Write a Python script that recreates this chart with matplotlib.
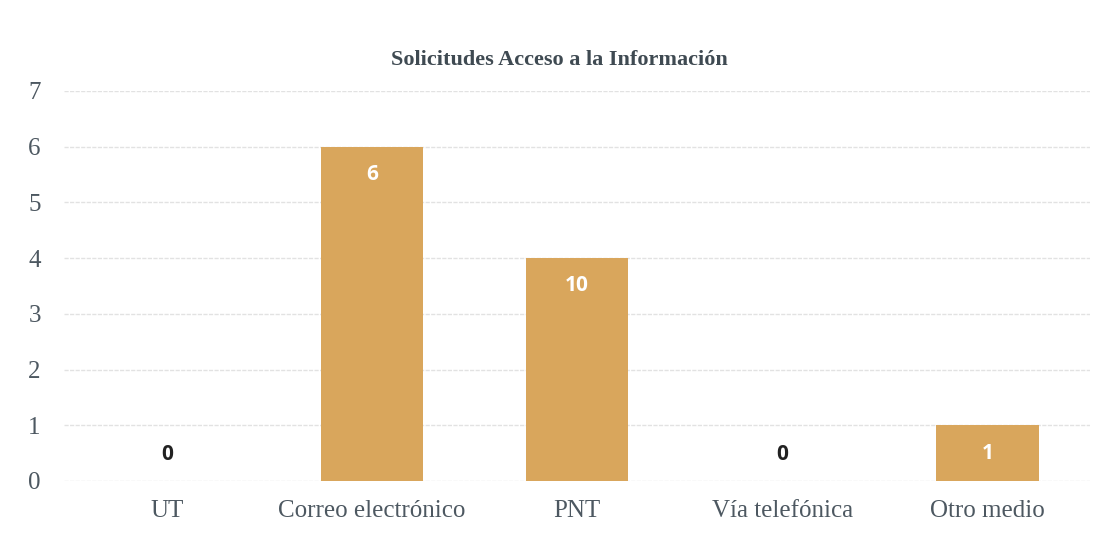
import matplotlib
matplotlib.use("Agg")
import matplotlib.pyplot as plt
import numpy as np

# data
categories = ["UT", "Correo electrónico", "PNT", "Vía telefónica", "Otro medio"]
values = [0, 6, 4, 0, 1]
bar_labels = ["0", "6", "10", "0", "1"]
yticks = [0, 1, 2, 3, 4, 5, 6, 7]

BAR = "#d9a65c"
TEXT = "#4d5861"
GRID = "#e2e2e2"

fig = plt.figure(figsize=(11.1, 5.35), dpi=100)
ax = fig.add_axes([0.058, 0.101, 0.924, 0.729])

x = np.arange(len(categories))
bars = ax.bar(x, values, width=0.5, color=BAR, zorder=2)

ax.set_xlim(-0.5, len(categories) - 0.5)
ax.set_ylim(0, 7)
ax.set_yticks(yticks)
ax.set_xticks(x)
ax.set_xticklabels(categories)

for s in ax.spines.values():
    s.set_visible(False)
ax.grid(axis="y", color=GRID, linewidth=1, linestyle=(0, (3, 1)), zorder=0)
ax.tick_params(length=0, labelsize=18, colors=TEXT)
ax.tick_params(axis="x", pad=14)
ax.tick_params(axis="y", pad=17)
for lab in ax.get_xticklabels() + ax.get_yticklabels():
    lab.set_family("Liberation Serif")

# value labels: white inside bar top, dark above zero bars
for b, v, txt in zip(bars, values, bar_labels):
    cx = b.get_x() + b.get_width() / 2
    if v > 0:
        ax.annotate(txt, (cx, v), xytext=(0, -20), textcoords="offset points",
                    ha="center", va="center", color="white", fontsize=15,
                    fontweight="bold", family="Open Sans")
    else:
        ax.annotate(txt, (cx, v), xytext=(0, 19), textcoords="offset points",
                    ha="center", va="center", color="#222222", fontsize=15,
                    fontweight="bold", family="Open Sans")

fig.text(0.504, 0.888, "Solicitudes Acceso a la Información", ha="center",
         va="center", fontsize=16, fontweight="bold", color="#3f4a52",
         family="Liberation Serif")

fig.savefig("out.png", dpi=100, facecolor="white")
